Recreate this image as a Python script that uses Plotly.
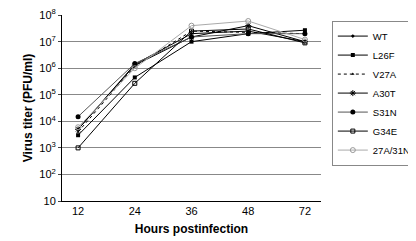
import plotly.graph_objects as go

hours = ["12", "24", "36", "48", "72"]
series_names = ["WT", "L26F", "V27A", "A30T", "S31N", "G34E", "27A/31N"]
wt = [5e3, 1.4e6, 2.0e7, 2.5e7, 1.0e7]
l26f = [3e3, 4.5e5, 1.0e7, 2.0e7, 2.7e7]
v27a = [4e3, 1.2e6, 2.5e7, 2.2e7, 2.0e7]
a30t = [5e3, 1.3e6, 1.5e7, 4.0e7, 1.0e7]
s31n = [1.5e4, 1.5e6, 1.5e7, 2.0e7, 2.0e7]
g34e = [1e3, 2.7e5, 2.5e7, 3.0e7, 9e6]
a27_31 = [6e3, 1.0e6, 4.0e7, 6.0e7, 1.2e7]
ytick_vals = [10, 1e2, 1e3, 1e4, 1e5, 1e6, 1e7, 1e8]
ytick_text = ["10", "10<sup>2</sup>", "10<sup>3</sup>", "10<sup>4</sup>", "10<sup>5</sup>",
              "10<sup>6</sup>", "10<sup>7</sup>", "10<sup>8</sup>"]

styles = [
    dict(line=dict(color="black", width=1), marker=dict(symbol="diamond", size=3, color="black")),
    dict(line=dict(color="black", width=1), marker=dict(symbol="square", size=4, color="black")),
    dict(line=dict(color="black", width=1, dash="dot"), marker=dict(symbol="triangle-up", size=3, color="black")),
    dict(line=dict(color="black", width=1), marker=dict(symbol="asterisk-open", size=5, color="black", line=dict(width=1, color="black"))),
    dict(line=dict(color="#555555", width=1), marker=dict(symbol="circle", size=5, color="black")),
    dict(line=dict(color="black", width=1), marker=dict(symbol="square-open", size=4, color="black", line=dict(width=1))),
    dict(line=dict(color="#aaaaaa", width=1), marker=dict(symbol="circle-open", size=5, color="#999999", line=dict(width=1))),
]
data = [wt, l26f, v27a, a30t, s31n, g34e, a27_31]

fig = go.Figure()
for name, vals, st in zip(series_names, data, styles):
    fig.add_trace(go.Scatter(x=hours, y=vals, name=name, mode="lines+markers", **st))

fig.update_layout(
    width=416, height=241,
    margin=dict(l=54, r=103, t=7, b=48, autoexpand=False),
    plot_bgcolor="white", paper_bgcolor="white",
    font=dict(family="Liberation Sans, Arial, sans-serif", size=11, color="black"),
    showlegend=True,
    legend=dict(x=1.37, y=0.97, xanchor="right", yanchor="top",
                bordercolor="#888888", borderwidth=1, bgcolor="white",
                font=dict(size=9.5), tracegroupgap=0, itemwidth=30),
    xaxis=dict(type="category", showline=True, linecolor="black", linewidth=1,
               ticks="", showgrid=False, tickfont=dict(size=11),
               title=dict(text="<b>Hours postinfection</b>", font=dict(size=12), standoff=8)),
    yaxis=dict(type="log", range=[1, 8.004], tickvals=ytick_vals, ticktext=ytick_text,
               showline=True, linecolor="black", linewidth=1, ticks="outside", ticklen=3,
               showgrid=True, gridcolor="#888888", gridwidth=1, zeroline=False,
               tickfont=dict(size=11), ticklabeloverflow="allow",
               title=dict(text="<b>Virus titer (PFU/ml)</b>", font=dict(size=12), standoff=4)),
)
fig.write_html("out.html")
